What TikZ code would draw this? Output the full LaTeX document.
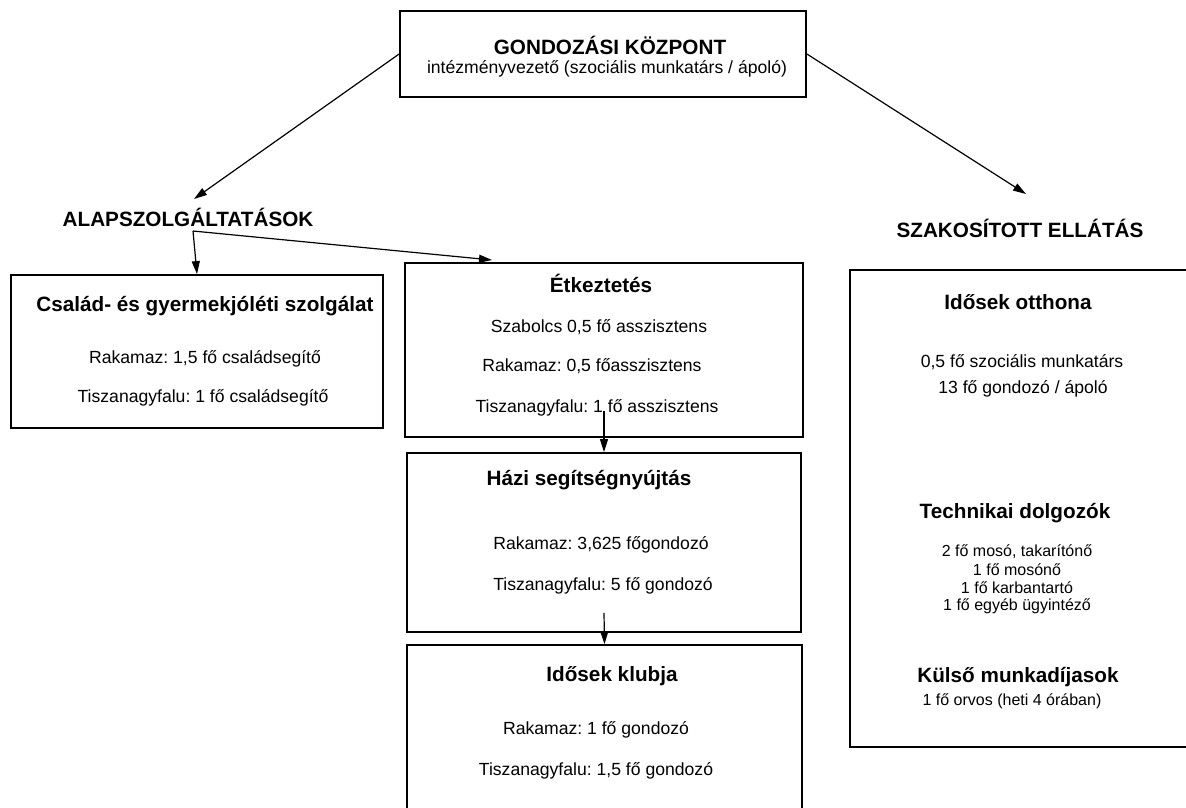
\documentclass[tikz,border=0pt]{standalone}
\usepackage{fontspec}
\setmainfont{Liberation Sans}
\usetikzlibrary{arrows.meta}
\frenchspacing
\begin{document}
\begin{tikzpicture}[x=1pt,y=-1pt,
  box/.style={draw,line width=1.8pt,rectangle,inner sep=0pt},
  arr/.style={line width=1.2pt,-{Triangle[length=13pt,width=8pt]}},
  hd/.style={font=\fontsize{20.7}{22}\selectfont\bfseries,inner sep=0pt},
  tx/.style={font=\fontsize{17.6}{19}\selectfont,inner sep=0pt},
  sm/.style={font=\fontsize{16}{17}\selectfont,inner sep=0pt},
]
\useasboundingbox[fill=white] (0,0) rectangle (1186,807);
\clip (0,0) rectangle (1186,807);
% boxes
\node[box,minimum width=406pt,minimum height=86pt] (top) at (603,54) {};
\node[box,minimum width=372pt,minimum height=153pt] (left) at (197,351.5) {};
\node[box,minimum width=398pt,minimum height=174pt] (etk) at (604,350) {};
\node[box,minimum width=394pt,minimum height=179pt] (hazi) at (604,542.5) {};
\node[box,minimum width=395pt,minimum height=200pt] (klub) at (604.5,745) {};
\node[box,minimum width=400pt,minimum height=477pt] (spec) at (1050,508.5) {};
% texts
\node[hd] (ttitle) at (610,45) {GONDOZÁSI KÖZPONT};
\node[tx] (tsub) at (607,69) {intézményvezető (szociális munkatárs / ápoló)};
\node[hd] (alap) at (188,217) {ALAPSZOLGÁLTATÁSOK};
\node[hd] (szak) at (1020,228) {SZAKOSÍTOTT ELLÁTÁS};
\node[hd] (lt) at (205,306) {Család- és gyermekjóléti szolgálat};
\node[tx] (l1) at (205,359) {Rakamaz: 1,5 fő családsegítő};
\node[tx] (l2) at (203,398) {Tiszanagyfalu: 1 fő családsegítő};
\node[hd] (et) at (601,283) {Étkeztetés};
\node[tx] (e1) at (599,327) {Szabolcs 0,5 fő asszisztens};
\node[tx] (e2) at (592,366) {Rakamaz: 0,5 főasszisztens};
\node[tx] (e3) at (597,408) {Tiszanagyfalu: 1 fő asszisztens};
\node[hd] (ht) at (589,480) {Házi segítségnyújtás};
\node[tx] (h1) at (601,545) {Rakamaz: 3,625 főgondozó};
\node[tx] (h2) at (603,586) {Tiszanagyfalu: 5 fő gondozó};
\node[hd] (kt) at (612,676) {Idősek klubja};
\node[tx] (k1) at (596,730) {Rakamaz: 1 fő gondozó};
\node[tx] (k2) at (596,771) {Tiszanagyfalu: 1,5 fő gondozó};
\node[hd] (ot) at (1018,302) {Idősek otthona};
\node[tx] (o1) at (1022,362) {0,5 fő szociális munkatárs};
\node[tx] (o2) at (1023,389) {13 fő gondozó / ápoló};
\node[hd] (tt) at (1015,513) {Technikai dolgozók};
\node[sm] (t1) at (1017,552) {2 fő mosó, takarítónő};
\node[sm] (t2) at (1017,570) {1 fő mosónő};
\node[sm] (t3) at (1017,588) {1 fő karbantartó};
\node[sm] (t4) at (1017,606) {1 fő egyéb ügyintéző};
\node[hd] (kut) at (1018,677) {Külső munkadíjasok};
\node[sm] (ku1) at (1012,701) {1 fő orvos (heti 4 órában)};
% connectors
\coordinate (alaptip) at (194,199);
\coordinate (szaktip) at (1026,194);
\coordinate (alapfoot) at (193,231);
\coordinate (etktip) at (492,260);
\draw[arr] (top.west) -- (alaptip);
\draw[arr] (top.east) -- (szaktip);
\draw[arr] (alapfoot) -- (left.north);
\draw[arr] (alapfoot) -- (etktip);
\draw[arr] ([yshift=27pt]etk.south) -- (hazi.north);
\draw[arr] ([yshift=20pt]hazi.south) -- (klub.north);
\end{tikzpicture}
\end{document}
